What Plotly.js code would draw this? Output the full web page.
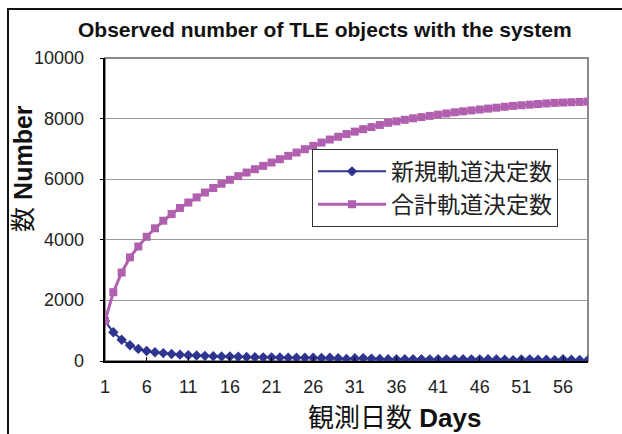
<!DOCTYPE html>
<html>
<head>
<meta charset="utf-8">
<script src="https://cdn.plot.ly/plotly-3.0.1.min.js"></script>
<style>
  html, body { margin: 0; padding: 0; background: #fff; }
  #wrap { position: relative; width: 622px; height: 434px; }
  #chart { position: absolute; left: 0; top: 0; width: 622px; height: 434px; }
  #frame { position: absolute; left: 7px; top: 8px; width: 615px; height: 426px;
           border-top: 2.5px solid #111; border-left: 2.5px solid #111; box-sizing: border-box; pointer-events: none; }
</style>
</head>
<body>
<div id="wrap"><div id="chart"></div><div id="frame"></div></div>
<script>
const days = Array.from({length: 59}, (_, i) => i + 1);

const newOrbits = [1320, 950, 700, 520, 400, 330, 290, 260, 230, 210,
  190, 180, 170, 160, 150, 150, 140, 130, 125, 120,
  120, 115, 110, 110, 110, 110, 100, 105, 90, 70,
  90, 95, 80, 70, 60, 60, 60, 60, 60, 55,
  60, 55, 55, 60, 55, 55, 60, 55, 45, 30,
  50, 55, 45, 40, 30, 60, 40, 35, 35];

const totalOrbits = [1320, 2270, 2920, 3420, 3780, 4100, 4380, 4630, 4850, 5050,
  5230, 5400, 5560, 5710, 5850, 5980, 6100, 6220, 6330, 6440,
  6550, 6660, 6770, 6880, 6990, 7100, 7210, 7310, 7400, 7490,
  7570, 7650, 7720, 7790, 7860, 7910, 7960, 8010, 8050, 8090,
  8130, 8170, 8210, 8240, 8270, 8300, 8330, 8360, 8390, 8420,
  8440, 8460, 8480, 8500, 8520, 8530, 8540, 8550, 8560];

const seriesNames = ['新規軌道決定数', '合計軌道決定数'];
const xTickVals = [1, 6, 11, 16, 21, 26, 31, 36, 41, 46, 51, 56];
const xTickText = ['1', '6', '11', '16', '21', '26', '31', '36', '41', '46', '51', '56'];
const yTickVals = [0, 2000, 4000, 6000, 8000, 10000];
const yTickText = ['0', '2000', '4000', '6000', '8000', '10000'];

const chartTitle = 'Observed number of TLE objects with the system';
const xTitle = '観測日数 <b>Days</b>';
const yTitle = '数 <b>Number</b>';

const SANS = '"Liberation Sans", Arial, "Noto Sans CJK JP", sans-serif';
const CJK = '"Noto Sans CJK JP", "Liberation Sans", sans-serif';

const traces = [
  {
    x: days, y: newOrbits, name: seriesNames[0], type: 'scatter', mode: 'lines+markers',
    line: {color: '#2E3590', width: 2},
    marker: {symbol: 'diamond', size: 8, color: '#2E3590'}
  },
  {
    x: days, y: totalOrbits, name: seriesNames[1], type: 'scatter', mode: 'lines+markers',
    line: {color: '#B060AE', width: 3},
    marker: {symbol: 'square', size: 8, color: '#B060AE'}
  }
];

// y tick labels placed through the y scale, offset left of the axis
const yLabelAnnotations = yTickVals.map((v, i) => ({
  text: yTickText[i], xref: 'paper', yref: 'y', x: 0, y: v,
  xanchor: 'right', yanchor: 'middle', xshift: -19, showarrow: false,
  font: {family: SANS, size: 18, color: '#222'}
}));

const layout = {
  width: 622, height: 434,
  margin: {l: 105, r: 34, t: 58, b: 73},
  paper_bgcolor: '#fff', plot_bgcolor: '#fff',
  showlegend: true,
  legend: {
    x: 0.4286, y: 0.70, xanchor: 'left', yanchor: 'top',
    bgcolor: '#fff', bordercolor: '#333', borderwidth: 1,
    font: {family: CJK, size: 23, color: '#222'},
    tracegroupgap: 0, itemwidth: 68
  },
  xaxis: {
    range: [1, 59], tickmode: 'array', tickvals: xTickVals, ticktext: xTickText,
    ticks: 'inside', ticklen: 4, tickcolor: '#000',
    showline: true, linecolor: '#000', linewidth: 2,
    showgrid: false, zeroline: false,
    tickfont: {family: SANS, size: 18, color: '#222'},
    ticklabelstandoff: 8
  },
  yaxis: {
    range: [0, 10000], tickmode: 'array', tickvals: yTickVals,
    showticklabels: false,
    ticks: 'outside', ticklen: 3, tickcolor: '#000',
    showline: true, linecolor: '#000', linewidth: 2,
    showgrid: true, gridcolor: '#9a9a9a', gridwidth: 1,
    zeroline: false
  },
  shapes: [
    {type: 'rect', xref: 'paper', yref: 'paper', x0: 0, x1: 1, y0: 0, y1: 1,
     line: {color: '#8a8a8a', width: 2}, layer: 'below'}
  ],
  annotations: [
    {text: '<b>' + chartTitle + '</b>', xref: 'paper', yref: 'paper',
     x: 0.455, y: 1.095, xanchor: 'center', yanchor: 'middle', showarrow: false,
     font: {family: SANS, size: 21, color: '#111'}},
    {text: xTitle, xref: 'paper', yref: 'paper',
     x: 0.6, y: -0.188, xanchor: 'center', yanchor: 'middle', showarrow: false,
     font: {family: SANS, size: 26, color: '#111'}},
    {text: yTitle, xref: 'paper', yref: 'paper', textangle: -90,
     x: -0.17, y: 0.637, xanchor: 'center', yanchor: 'middle', showarrow: false,
     font: {family: SANS, size: 25, color: '#111'}}
  ].concat(yLabelAnnotations)
};

Plotly.newPlot('chart', traces, layout, {displayModeBar: false, staticPlot: true});
</script>
</body>
</html>
